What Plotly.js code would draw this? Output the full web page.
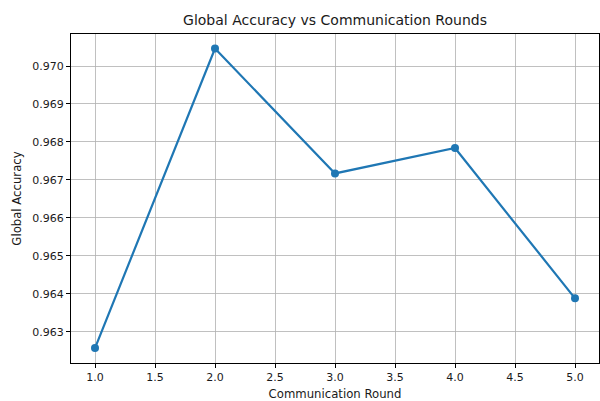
<!DOCTYPE html>
<html>
<head>
<meta charset="utf-8">
<script src="https://cdn.plot.ly/plotly-3.0.1.min.js"></script>
<style>html,body{margin:0;padding:0;background:#fff;}#chart{width:600px;height:401px;}</style>
</head>
<body>
<div id="chart"></div>
<script>
const rounds = [1, 2, 3, 4, 5];
const accuracy = [0.96257, 0.97046, 0.96717, 0.96784, 0.96388];
const titleText = "Global Accuracy vs Communication Rounds";
const xLabel = "Communication Round";
const yLabel = "Global Accuracy";

const font = {family: "DejaVu Sans, sans-serif", color: "#1a1a1a", size: 11};
const labelFont = {family: "DejaVu Sans, sans-serif", color: "#1a1a1a", size: 11.7};

const trace = {
  x: rounds, y: accuracy, type: "scatter", mode: "lines+markers",
  line: {color: "#1f77b4", width: 2.2},
  marker: {color: "#1f77b4", size: 8},
  cliponaxis: false
};

const axisCommon = {
  showline: true, linecolor: "#000", linewidth: 1, mirror: true,
  ticks: "outside", ticklen: 4, tickwidth: 1, tickcolor: "#000",
  showgrid: true, gridcolor: "#b0b0b0", gridwidth: 0.8,
  zeroline: false, tickfont: font
};

const layout = {
  width: 600, height: 401,
  margin: {l: 71, r: 1, t: 34, b: 38},
  paper_bgcolor: "#fff", plot_bgcolor: "#fff",
  font: font,
  showlegend: false,
  title: {text: titleText, font: {family: font.family, size: 14, color: "#1a1a1a"},
          xref: "paper", x: 0.5, xanchor: "center", yref: "container", y: 1 - 20/401, yanchor: "middle"},
  xaxis: Object.assign({}, axisCommon, {
    range: [0.8, 5.2], dtick: 0.5, tick0: 1, tickformat: ".1f",
    title: {text: xLabel, font: labelFont, standoff: 7}
  }),
  yaxis: Object.assign({}, axisCommon, {
    range: [0.962176, 0.970844], dtick: 0.001, tick0: 0.963, tickformat: ".3f",
    title: {text: yLabel, font: labelFont, standoff: 8}
  })
};

Plotly.newPlot("chart", [trace], layout, {displayModeBar: false, staticPlot: true});
</script>
</body>
</html>
